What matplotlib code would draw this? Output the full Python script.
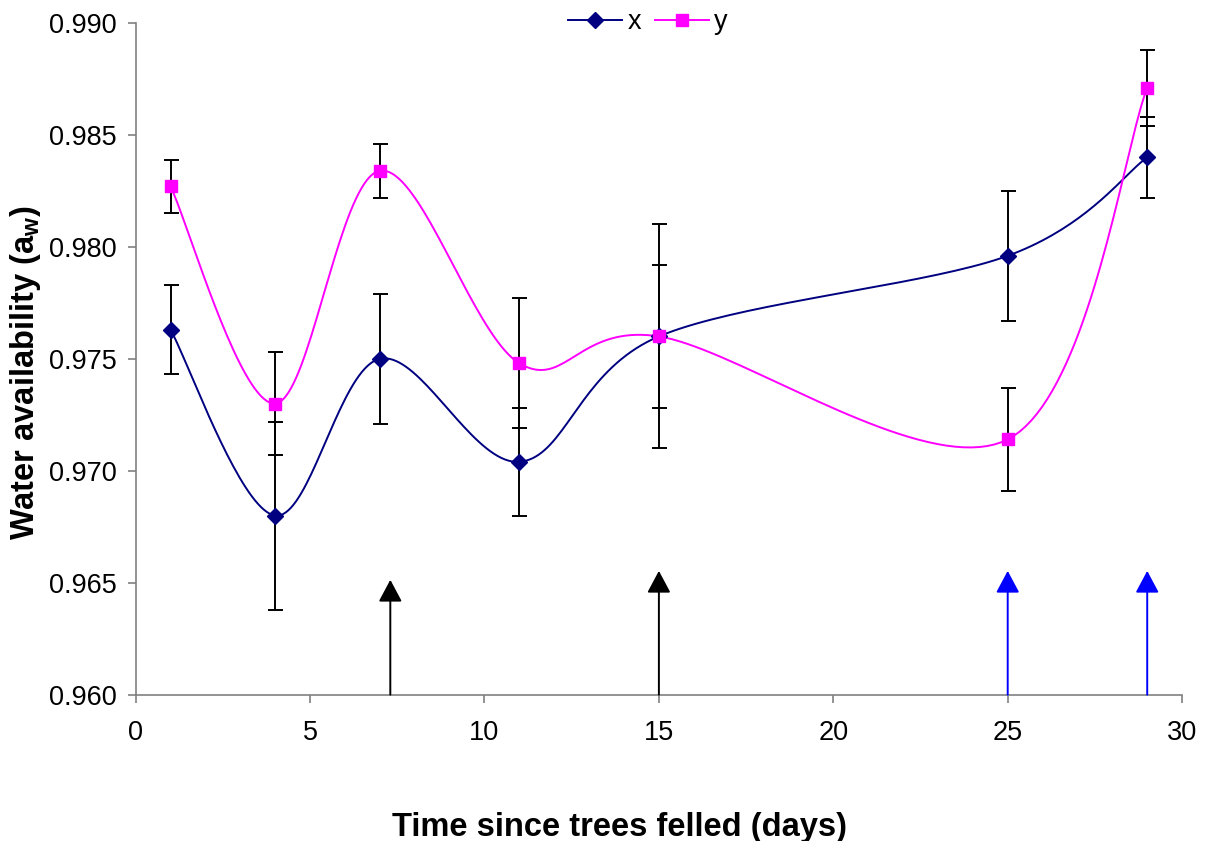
import matplotlib
matplotlib.use("Agg")
import matplotlib.pyplot as plt
import numpy as np

plt.rcParams["font.family"] = ["Liberation Sans", "DejaVu Sans"]
plt.rcParams["mathtext.fontset"] = "custom"
plt.rcParams["mathtext.rm"] = "Liberation Sans:bold"
plt.rcParams["mathtext.it"] = "Liberation Sans:bold"

# ------------------------------------------------------------
# data
# ------------------------------------------------------------
days = [1, 4, 7, 11, 15, 25, 29]
x_mean = [0.9763, 0.9680, 0.9750, 0.9704, 0.9760, 0.9796, 0.9840]
x_err = [0.0020, 0.0042, 0.0029, 0.0024, 0.0050, 0.0029, 0.0018]
y_mean = [0.9827, 0.9730, 0.9834, 0.9748, 0.9760, 0.9714, 0.9871]
y_err = [0.0012, 0.0023, 0.0012, 0.0029, 0.0032, 0.0023, 0.0017]

arrow_days = [7.3, 15, 25, 29]
arrow_tops = [0.96513, 0.96553, 0.96553, 0.96553]
arrow_colors = ["black", "black", "#0000FF", "#0000FF"]

x_ticks = [0, 5, 10, 15, 20, 25, 30]
y_ticks = [0.960, 0.965, 0.970, 0.975, 0.980, 0.985, 0.990]
x_lim = (0, 30)
y_lim = (0.960, 0.990)


def smooth_curve(ax, xs, ys, n=40):
    """Excel-like smoothed line: Catmull-Rom bezier in pixel space."""
    W = ax.bbox.width
    H = ax.bbox.height
    sx = W / (x_lim[1] - x_lim[0])
    sy = H / (y_lim[1] - y_lim[0])
    pts = np.column_stack([(np.asarray(xs) - x_lim[0]) * sx,
                           (np.asarray(ys) - y_lim[0]) * sy])
    ext = np.vstack([pts[0], pts, pts[-1]])
    t = np.linspace(0, 1, n)[:, None]
    segs = []
    for i in range(len(pts) - 1):
        p0, p1, p2, p3 = ext[i], ext[i + 1], ext[i + 2], ext[i + 3]
        c1 = p1 + (p2 - p0) / 6
        c2 = p2 - (p3 - p1) / 6
        seg = ((1 - t) ** 3 * p1 + 3 * (1 - t) ** 2 * t * c1
               + 3 * (1 - t) * t ** 2 * c2 + t ** 3 * p2)
        segs.append(seg)
    curve = np.vstack(segs)
    return curve[:, 0] / sx + x_lim[0], curve[:, 1] / sy + y_lim[0]


fig = plt.figure(figsize=(12.05, 8.41), dpi=100)
ax = fig.add_axes([0.1126, 0.174, 0.8684, 0.7987])
ax.set_xlim(*x_lim)
ax.set_ylim(*y_lim)

navy = "#000080"
pink = "#FF00FF"

# error bars
ax.errorbar(days, x_mean, yerr=x_err, fmt="none", ecolor="black",
            elinewidth=1.4, capsize=5.4, capthick=1.4, zorder=2)
ax.errorbar(days, y_mean, yerr=y_err, fmt="none", ecolor="black",
            elinewidth=1.4, capsize=5.4, capthick=1.4, zorder=2)

# smoothed lines
sx_, sy_ = smooth_curve(ax, days, x_mean)
ax.plot(sx_, sy_, color=navy, lw=1.4, zorder=3)
sx_, sy_ = smooth_curve(ax, days, y_mean)
ax.plot(sx_, sy_, color=pink, lw=1.4, zorder=3)

# markers
ax.plot(days, x_mean, ls="none", marker="D", ms=8, color=navy, zorder=4)
ax.plot(days, y_mean, ls="none", marker="s", ms=8, color=pink, zorder=4)

# arrows
for d, top, c in zip(arrow_days, arrow_tops, arrow_colors):
    ax.annotate("", xy=(d, top), xytext=(d, y_lim[0]),
                arrowprops=dict(arrowstyle="-|>,head_length=13.5,head_width=7.2",
                                mutation_scale=1, color=c, lw=1.4,
                                shrinkA=0, shrinkB=0),
                zorder=3, annotation_clip=False)

# axes styling
for side in ["top", "right"]:
    ax.spines[side].set_visible(False)
for side in ["left", "bottom"]:
    ax.spines[side].set_color("#808080")
    ax.spines[side].set_linewidth(1.2)

ax.set_xticks(x_ticks)
ax.set_yticks(y_ticks)
ax.set_yticklabels([f"{v:.3f}" for v in y_ticks])
ax.tick_params(axis="both", direction="out", length=5.5, width=1.2,
               color="#808080", labelsize=19.5)
ax.tick_params(axis="x", pad=13)
ax.tick_params(axis="y", pad=8)

ax.set_xlabel("Time since trees felled (days)", fontsize=23.5,
              fontweight="bold")
ax.xaxis.set_label_coords(0.462, -0.175)
ax.set_ylabel(r"Water availability (a$_{\mathrm{w}}$)", fontsize=23.5,
              fontweight="bold")
ax.yaxis.set_label_coords(-0.089, 0.48)

# legend
handles = [
    plt.Line2D([], [], color=navy, lw=1.4, marker="D", ms=8),
    plt.Line2D([], [], color=pink, lw=1.4, marker="s", ms=8),
]
fig.legend(handles, ["x", "y"], loc="center", ncol=2, frameon=False,
           bbox_to_anchor=(648 / 1205, 1 - 22 / 841), fontsize=19.5,
           handlelength=2.0, handletextpad=0.2, columnspacing=0.5)

fig.savefig("out.png", dpi=100)
